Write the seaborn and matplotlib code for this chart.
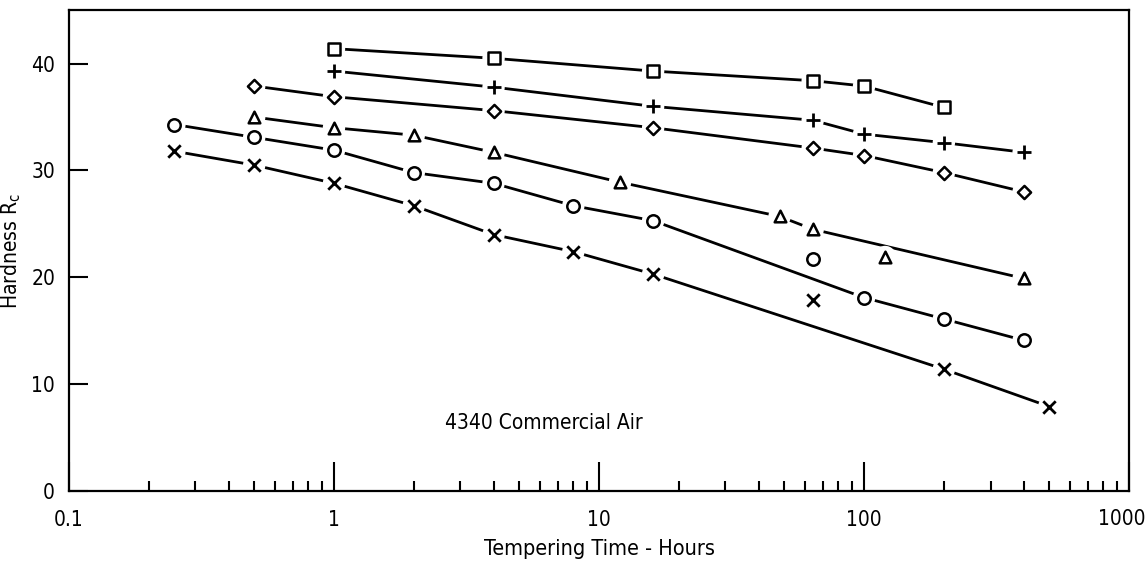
import matplotlib
matplotlib.use("Agg")
import matplotlib.pyplot as plt
import seaborn as sns
from matplotlib.ticker import FixedLocator, NullFormatter, FixedFormatter

# ---- data ----
square_t = [1, 4, 16, 64, 100, 200]
square_h = [41.4, 40.5, 39.3, 38.4, 37.9, 35.9]
plus_t = [1, 4, 16, 64, 100, 200, 400]
plus_h = [39.3, 37.8, 36.0, 34.7, 33.4, 32.6, 31.7]
diamond_t = [0.5, 1, 4, 16, 64, 100, 200, 400]
diamond_h = [37.9, 36.9, 35.6, 34.0, 32.1, 31.4, 29.8, 28.0]
triangle_t = [0.5, 1, 2, 4, 12, 48, 64, 120, 400]
triangle_h = [35.0, 34.0, 33.3, 31.7, 28.9, 25.7, 24.5, 21.9, 19.9]
circle_t = [0.25, 0.5, 1, 2, 4, 8, 16, 64, 100, 200, 400]
circle_h = [34.3, 33.1, 31.9, 29.8, 28.8, 26.7, 25.3, 21.7, 18.1, 16.1, 14.1]
cross_t = [0.25, 0.5, 1, 2, 4, 8, 16, 64, 200, 500]
cross_h = [31.8, 30.5, 28.8, 26.7, 24.0, 22.4, 20.3, 17.9, 11.4, 7.9]

# fitted curves drawn in the reference (nodes)
triangle_fit_t = [0.5, 1, 2, 4, 12, 48, 64, 400]
triangle_fit_h = [35.0, 34.0, 33.3, 31.7, 28.9, 25.7, 24.5, 19.9]
circle_fit_t = [0.25, 0.5, 1, 2, 4, 8, 16, 100, 200, 400]
circle_fit_h = [34.3, 33.1, 31.9, 29.8, 28.8, 26.7, 25.3, 18.1, 16.1, 14.1]
cross_fit_t = [0.25, 0.5, 1, 2, 4, 8, 16, 200, 500]
cross_fit_h = [31.8, 30.5, 28.8, 26.7, 24.0, 22.4, 20.3, 11.4, 7.9]

x_major = [0.1, 1, 10, 100, 1000]
x_major_labels = ["0.1", "1", "10", "100", "1000"]
y_ticks = [0, 10, 20, 30, 40]

sns.set_theme(style="white")
plt.rcParams['font.family'] = ['DejaVu Sans']
plt.rcParams['font.stretch'] = 'condensed'
plt.rcParams['text.color'] = 'black'
plt.rcParams['axes.labelcolor'] = 'black'

fig = plt.figure(figsize=(11.47, 5.66), dpi=100)
ax = fig.add_axes([0.0601, 0.1325, 0.9243, 0.8495])

series = [
    ("s", square_t, square_h, square_t, square_h),
    ("+", plus_t, plus_h, plus_t, plus_h),
    ("D", diamond_t, diamond_h, diamond_t, diamond_h),
    ("^", triangle_t, triangle_h, triangle_fit_t, triangle_fit_h),
    ("o", circle_t, circle_h, circle_fit_t, circle_fit_h),
    ("x", cross_t, cross_h, cross_fit_t, cross_fit_h),
]
sizes = {"s": 70, "+": 100, "D": 45, "^": 70, "o": 80, "x": 80}

for m, t, h, ft, fh in series:
    sns.lineplot(x=ft, y=fh, ax=ax, color="black", lw=2.0, estimator=None,
                 sort=False, zorder=2)
    sns.scatterplot(x=t, y=h, ax=ax, marker="o", s=260, color="white",
                    edgecolor="none", linewidth=0, zorder=3)
    if m in ("+", "x"):
        sns.scatterplot(x=t, y=h, ax=ax, marker=m, s=sizes[m], color="black",
                        linewidth=2.0, zorder=4)
    else:
        sns.scatterplot(x=t, y=h, ax=ax, marker=m, s=sizes[m],
                        facecolor="white", edgecolor="black", linewidth=1.8,
                        zorder=4)

ax.set_xscale("log")
ax.set_xlim(0.1, 1000)
ax.set_ylim(0, 45)

ax.xaxis.set_major_locator(FixedLocator(x_major))
ax.xaxis.set_major_formatter(FixedFormatter(x_major_labels[:-1] + [""]))
minors = [k * 10.0 ** e for e in (-1, 0, 1, 2) for k in range(2, 10)]
ax.xaxis.set_minor_locator(FixedLocator(minors))
ax.xaxis.set_minor_formatter(NullFormatter())
ax.set_yticks(y_ticks)

ax.tick_params(axis="x", which="major", direction="in", length=21, width=1.5,
               colors="black", labelsize=15, pad=14, bottom=True, top=False)
ax.tick_params(axis="x", which="minor", direction="in", length=7, width=1.5,
               colors="black", bottom=True, top=False)
ax.tick_params(axis="y", which="major", direction="in", length=14, width=1.5,
               colors="black", labelsize=15, pad=10, left=True, right=False)
# last x tick label, nudged left so it stays inside the figure
ax.annotate(x_major_labels[-1], xy=(x_major[-1], 0), xycoords="data",
            xytext=(-5, -20), textcoords="offset points", ha="center",
            va="center", fontsize=15)

for s in ax.spines.values():
    s.set_visible(True)
    s.set_color("black")
    s.set_linewidth(1.6)

ax.set_xlabel("Tempering Time - Hours", fontsize=15.5, labelpad=6)
ax.set_ylabel(r"Hardness R$_{\mathrm{c}}$", fontsize=15, labelpad=6)

ax.text(6.2, 6.4, "4340 Commercial Air", fontsize=15, ha="center", va="center")

fig.savefig("out.png", dpi=100, facecolor="white")
